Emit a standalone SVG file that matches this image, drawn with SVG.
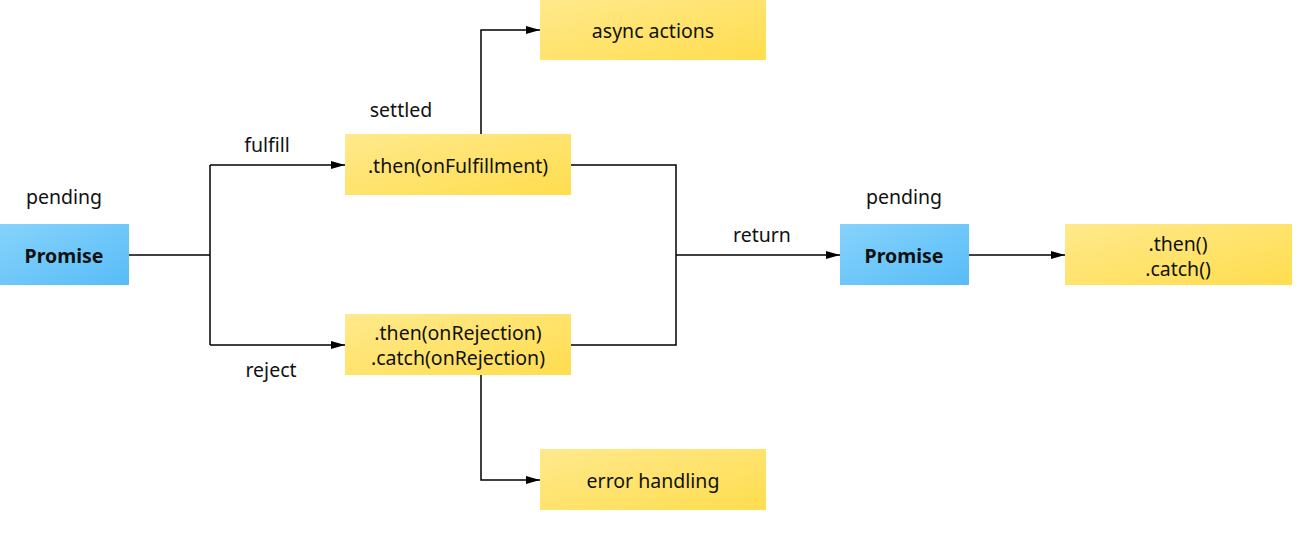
<svg xmlns="http://www.w3.org/2000/svg" width="1308" height="555" viewBox="0 0 1308 555">
<defs>
<linearGradient id="gb" x1="0" y1="0" x2="1" y2="1"><stop offset="0" stop-color="#86d3fc"/><stop offset="1" stop-color="#58bcf7"/></linearGradient>
<linearGradient id="gy" x1="0" y1="0" x2="1" y2="1"><stop offset="0" stop-color="#ffe98c"/><stop offset="1" stop-color="#ffdd4e"/></linearGradient>
<marker id="ah" markerWidth="14" markerHeight="8" refX="14" refY="4" orient="auto" markerUnits="userSpaceOnUse"><path d="M0,0 L14,4 L0,8 Z" fill="#000"/></marker>
<style>
text{font-family:"Noto Sans","Open Sans","DejaVu Sans",sans-serif;font-size:19.5px;fill:#111;text-anchor:middle;dominant-baseline:central}
.b{font-weight:bold}
.blue{fill:url(#gb)}
.yel{fill:url(#gy)}
.c{fill:none;stroke:#000;stroke-width:1.5}
</style>
</defs>
<rect width="1308" height="555" fill="#fff"/>
<g id="connectors">
<path class="c" d="M129,255 H210"/>
<path class="c" d="M210,165 V345"/>
<path class="c" d="M210,165 H345" marker-end="url(#ah)"/>
<path class="c" d="M210,345 H345" marker-end="url(#ah)"/>
<path class="c" d="M481,134 V30 H540" marker-end="url(#ah)"/>
<path class="c" d="M481,375 V480 H540" marker-end="url(#ah)"/>
<path class="c" d="M571,165 H676 V345 H571"/>
<path class="c" d="M676,255 H840" marker-end="url(#ah)"/>
<path class="c" d="M969,255 H1065" marker-end="url(#ah)"/>
</g>
<g id="labels">
<text x="64" y="196">pending</text>
<text x="401" y="109">settled</text>
<text x="267" y="144">fulfill</text>
<text x="271" y="369">reject</text>
<text x="762" y="234">return</text>
<text x="904" y="196">pending</text>
</g>
<g id="promise1"><rect class="blue" x="0" y="224" width="129" height="61"/><text class="b" x="64" y="255">Promise</text></g>
<g id="thenFulfill"><rect class="yel" x="345" y="134" width="226" height="61"/><text x="458" y="165">.then(onFulfillment)</text></g>
<g id="asyncActions"><rect class="yel" x="540" y="0" width="226" height="60"/><text x="653" y="30">async actions</text></g>
<g id="thenReject"><rect class="yel" x="345" y="314" width="226" height="61"/><text x="458" y="332">.then(onRejection)</text><text x="458" y="357">.catch(onRejection)</text></g>
<g id="errorHandling"><rect class="yel" x="540" y="449" width="226" height="61"/><text x="653" y="480">error handling</text></g>
<g id="promise2"><rect class="blue" x="840" y="224" width="129" height="61"/><text class="b" x="904" y="255">Promise</text></g>
<g id="thenCatch"><rect class="yel" x="1065" y="224" width="227" height="61"/><text x="1178" y="243">.then()</text><text x="1178" y="268">.catch()</text></g>
</svg>
